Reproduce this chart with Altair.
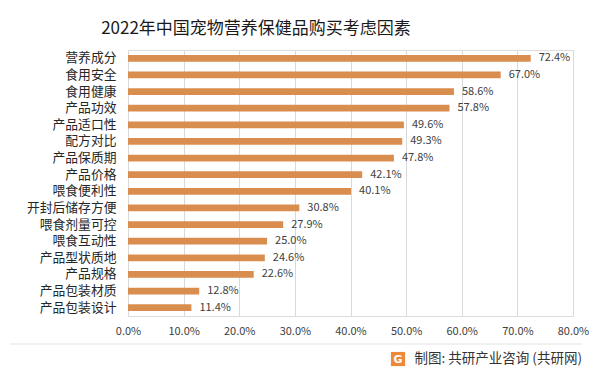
import altair as alt
import pandas as pd

title_text = "2022年中国宠物营养保健品购买考虑因素"
footer_text = "制图: 共研产业咨询 (共研网)"
categories = ["营养成分", "食用安全", "食用健康", "产品功效", "产品适口性", "配方对比",
              "产品保质期", "产品价格", "喂食便利性", "开封后储存方便", "喂食剂量可控",
              "喂食互动性", "产品型状质地", "产品规格", "产品包装材质", "产品包装设计"]
values = [72.4, 67.0, 58.6, 57.8, 49.6, 49.3, 47.8, 42.1, 40.1, 30.8, 27.9,
          25.0, 24.6, 22.6, 12.8, 11.4]
x_ticks = [0, 10, 20, 30, 40, 50, 60, 70, 80]

FONT = "Noto Sans CJK SC"
df = pd.DataFrame({"cat": categories, "val": values})

base = alt.Chart(df)
y_enc = alt.Y("cat:N", sort=None, title=None,
              scale=alt.Scale(paddingInner=0.6, paddingOuter=0.3),
              axis=alt.Axis(ticks=False, domain=False, labelFontSize=12.8, labelFont=FONT,
                            labelColor="#262626", labelPadding=12, grid=False))
x_enc = alt.X("val:Q", title=None,
              scale=alt.Scale(domain=[0, 80], nice=False),
              axis=alt.Axis(values=x_ticks, labelExpr="format(datum.value, '.1f') + '%'",
                            ticks=False, domain=False, grid=True, gridColor="#d9d9d9",
                            labelFlush=False, labelOverlap=False,
                            labelFontSize=11, labelFont=FONT, labelColor="#404040",
                            labelPadding=9))

bars = base.mark_bar(color="#D98E4F").encode(x=x_enc, y=y_enc)
labels = base.transform_calculate(
    lbl="format(datum.val, '.1f') + '%'"
).mark_text(align="left", baseline="middle", dx=8, fontSize=11, font=FONT,
            color="#404040").encode(x="val:Q", y=alt.Y("cat:N", sort=None), text="lbl:N")

title_df = pd.DataFrame({"t": [title_text]})
title = alt.Chart(title_df).mark_text(
    fontSize=17, font=FONT, color="#1a1a1a", align="center", baseline="middle"
).encode(x=alt.value(128), y=alt.value(-21), text="t:N")

footer_df = pd.DataFrame({"t": [footer_text]})
footer_line = alt.Chart(footer_df).mark_rule(color="#e3e3e3", strokeWidth=1).encode(
    x=alt.value(-118), x2=alt.value(454), y=alt.value(294))
footer = alt.Chart(footer_df).mark_text(
    fontSize=13.5, font=FONT, color="#333333", align="right", baseline="middle"
).encode(x=alt.value(454), y=alt.value(309), text="t:N")
icon = alt.Chart(footer_df).mark_point(
    shape="square", filled=True, color="#F0883A", size=200, opacity=1
).encode(x=alt.value(270), y=alt.value(309))
icon_g = alt.Chart(pd.DataFrame({"g": ["G"]})).mark_text(
    fontSize=11, font="DejaVu Sans", fontWeight="bold", color="white",
    align="center", baseline="middle"
).encode(x=alt.value(270), y=alt.value(309.5), text="g:N")

chart = alt.layer(bars, labels, title, footer_line, footer, icon, icon_g).properties(
    width=445, height=266,
    autosize=alt.AutoSizeParams(type="none"),
    padding={"left": 120, "top": 42, "right": 20, "bottom": 54},
).configure_view(stroke=None).configure(background="white")

chart.save("out.html", embed_options={"renderer": "svg", "actions": False})
